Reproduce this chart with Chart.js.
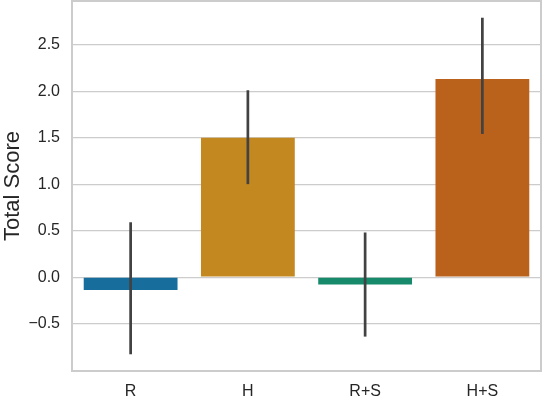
<!DOCTYPE html>
<html>
<head>
<meta charset="utf-8">
<script src="https://cdn.jsdelivr.net/npm/chart.js@4/dist/chart.umd.min.js"></script>
<style>
  body { margin: 0; background: #fff; }
</style>
</head>
<body>
<canvas id="chart" width="542" height="396"></canvas>
<script>
// groups and mean scores
var categories = ['R', 'H', 'R+S', 'H+S'];
var scores = [-0.14, 1.50, -0.08, 2.13];
// confidence interval ends
var errLow = [-0.83, 1.00, -0.64, 1.54];
var errHigh = [0.59, 2.01, 0.48, 2.79];
var barColors = ['#176d9c', '#c38820', '#168a6a', '#ba611b'];
var yTicks = [-0.5, 0, 0.5, 1, 1.5, 2, 2.5];

// error bars drawn from the data through the scales
var errorBars = {
    id: 'errorBars',
    afterDatasetsDraw: function (chart) {
        var ctx = chart.ctx;
        var y = chart.scales.y;
        var meta = chart.getDatasetMeta(0);
        ctx.save();
        ctx.strokeStyle = '#424242';
        ctx.lineWidth = 2.7;
        meta.data.forEach(function (bar, i) {
            ctx.beginPath();
            ctx.moveTo(bar.x, y.getPixelForValue(errLow[i]));
            ctx.lineTo(bar.x, y.getPixelForValue(errHigh[i]));
            ctx.stroke();
        });
        ctx.restore();
    }
};

// axes box all round
var frame = {
    id: 'frame',
    afterDraw: function (chart) {
        var a = chart.chartArea;
        var ctx = chart.ctx;
        ctx.save();
        ctx.strokeStyle = '#cccccc';
        ctx.lineWidth = 2;
        ctx.strokeRect(a.left, a.top, a.right - a.left, a.bottom - a.top);
        ctx.restore();
    }
};

var tickFont = { family: 'Liberation Sans, Arial, sans-serif', size: 16 };

var ctx = document.getElementById('chart').getContext('2d');
var chart = new Chart(ctx, {
    type: 'bar',
    data: {
        labels: categories,
        datasets: [{
            data: scores,
            backgroundColor: barColors,
            borderColor: barColors,
            borderWidth: 0,
            barPercentage: 0.8,
            categoryPercentage: 1.0
        }]
    },
    options: {
        responsive: false,
        animation: false,
        layout: { padding: { top: 1, right: 1, left: 0, bottom: 0 } },
        plugins: {
            legend: { display: false },
            tooltip: { enabled: false }
        },
        scales: {
            x: {
                grid: { display: false, drawTicks: false },
                border: { display: false },
                ticks: { padding: 11, color: '#262626', font: tickFont },
                afterFit: function (scale) {
                    scale.height = 25;
                    scale.paddingLeft = 0;
                    scale.paddingRight = 0;
                }
            },
            y: {
                min: -1.01,
                max: 2.97,
                grid: { color: '#cccccc', lineWidth: 1.2, drawTicks: false },
                border: { display: false },
                afterBuildTicks: function (scale) {
                    scale.ticks = yTicks.map(function (v) { return { value: v }; });
                },
                ticks: {
                    padding: 12,
                    color: '#262626',
                    font: tickFont,
                    callback: function (v) {
                        return v.toFixed(1).replace('-', '\u2212');
                    }
                },
                title: {
                    display: true,
                    text: 'Total Score',
                    color: '#262626',
                    font: { family: 'Liberation Sans, Arial, sans-serif', size: 22 },
                    padding: { top: 0, bottom: 0 }
                },
                afterFit: function (scale) {
                    scale.width = 72;
                    scale.paddingTop = 0;
                    scale.paddingBottom = 0;
                }
            }
        }
    },
    plugins: [errorBars, frame]
});
</script>
</body>
</html>
